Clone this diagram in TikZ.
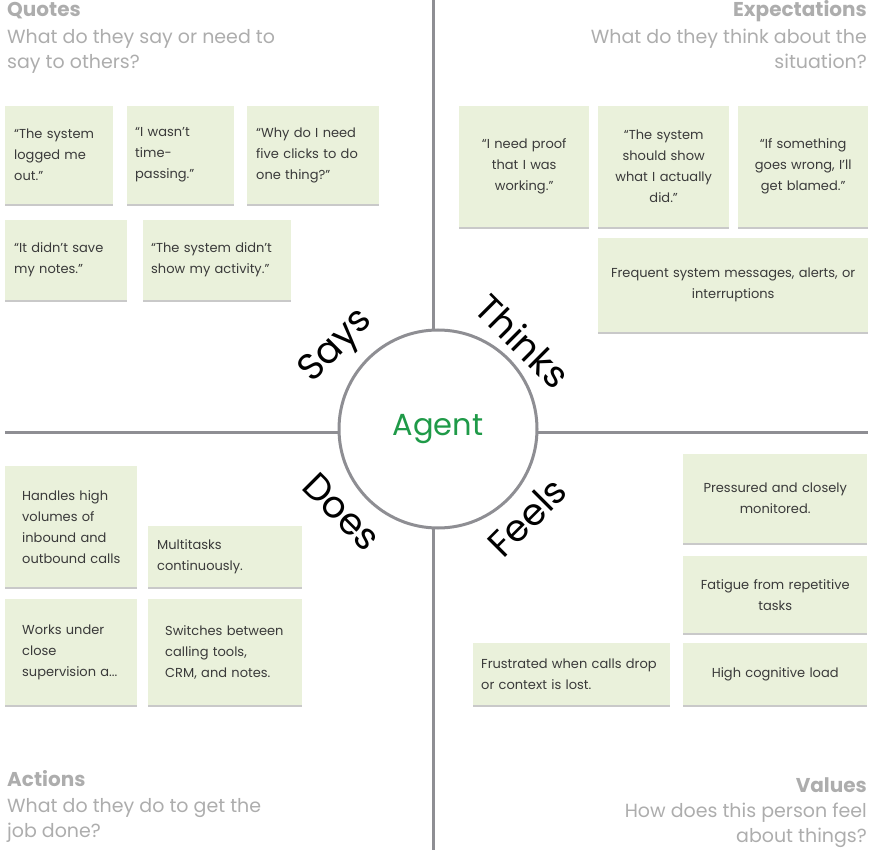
\documentclass[tikz,border=0pt]{standalone}
\usepackage{fontspec}
\setmainfont{Poppins}
\usetikzlibrary{shadows}
\definecolor{stickyfill}{HTML}{EAF1DB}
\definecolor{linegray}{HTML}{8E8E93}
\definecolor{headgray}{HTML}{ADADAD}
\definecolor{agentgreen}{HTML}{1F9A48}
\definecolor{stickytext}{HTML}{3A3A3A}
\tikzset{
  sticky/.style={fill=stickyfill, draw=none, anchor=north west, inner ysep=0pt,
    text=stickytext, font=\fontsize{13}{21}\selectfont,
    drop shadow={shadow xshift=0pt, shadow yshift=-1.5pt, fill=black!30, opacity=0.7}},
  stickyL/.style={sticky, align=left},
  stickyC/.style={sticky, align=center},
  head/.style={text=headgray, font=\fontsize{19}{25}\selectfont, inner sep=0pt},
  headbold/.style={text=headgray, font=\fontsize{20}{25}\selectfont\bfseries, inner sep=0pt},
  divider/.style={draw=linegray, line width=3pt},
  quad/.style={font=\fontsize{37}{37}\selectfont, text=black, inner sep=0pt},
}
\begin{document}
\begin{tikzpicture}[x=1pt, y=-1pt]
\useasboundingbox (0,0) rectangle (870,850);
% dividers
\coordinate (vtop) at (433.5,0);
\coordinate (vbot) at (433.5,850);
\coordinate (hl) at (5,432);
\coordinate (hr) at (868,432);
\node[circle, minimum size=198, inner sep=0pt] (agentc) at (438,429) {};
\draw[divider] (vtop) -- (agentc.north -| vtop);
\draw[divider] (agentc.south -| vbot) -- (vbot);
\draw[divider] (hl) -- (agentc.west |- hl);
\draw[divider] (agentc.east |- hr) -- (hr);
\node[circle, draw=linegray, line width=3pt, fill=white, minimum size=198, inner sep=0pt,
  text=agentgreen, font=\fontsize{30.5}{30}\selectfont] (agent) at (438,429) {Agent};

% quadrant labels
\node[quad, rotate=45] (says) at (337,347) {Says};
\node[quad, rotate=-45] (thinks) at (523,341) {Thinks};
\node[quad, rotate=-45] (does) at (342,512) {Does};
\node[quad, rotate=45] (feels) at (527,517) {Feels};

% headers
\node[headbold, anchor=west] (qh) at (7,11) {Quotes};
\node[head, anchor=north west, align=left] (qs) at (7,29) {What do they say or need to\\say to others?};
\node[headbold, anchor=east] (eh) at (867,11) {Expectations};
\node[head, anchor=north east, align=right] (es) at (867,29) {What do they think about the\\situation?};
\node[headbold, anchor=west] (ah) at (7,779) {Actions};
\node[head, anchor=north west, align=left] (as) at (7,798) {What do they do to get the\\job done?};
\node[headbold, anchor=east] (vh) at (867,785) {Values};
\node[head, anchor=north east, align=right] (vs) at (867,803) {How does this person feel\\about things?};

% Says stickies
\node[stickyL, inner xsep=9pt, text width=90pt, minimum height=98pt] (q1) at (5,106) {“The system\\logged me\\out.”};
\node[stickyL, inner xsep=8pt, text width=91pt, minimum height=98pt] (q2) at (127,106) {“I wasn’t\\time-\\passing.”};
\node[stickyL, inner xsep=9pt, text width=114pt, minimum height=98pt] (q3) at (247,106) {“Why do I need\\five clicks to do\\one thing?”};
\node[stickyL, inner xsep=9pt, text width=104pt, minimum height=80pt] (q4) at (5,220) {“It didn’t save\\my notes.”};
\node[stickyL, inner xsep=8pt, text width=132pt, minimum height=80pt] (q5) at (143,220) {“The system didn’t\\show my activity.”};

% Thinks stickies
\node[stickyC, inner xsep=5pt, text width=120pt, minimum height=121pt] (t1) at (459,106) {“I need proof\\that I was\\working.”};
\node[stickyC, inner xsep=5pt, text width=121pt, minimum height=121pt] (t2) at (598,106) {“The system\\should show\\what I actually\\did.”};
\node[stickyC, inner xsep=5pt, text width=120pt, minimum height=121pt] (t3) at (738,106) {“If something\\goes wrong, I’ll\\get blamed.”};
\node[stickyC, inner xsep=5pt, text width=260pt, minimum height=94pt] (t4) at (598,238) {Frequent system messages, alerts, or\\interruptions};

% Does stickies
\node[stickyL, inner xsep=12pt, text width=108pt, minimum height=121pt] (d1) at (5,466) {\hspace*{5pt}Handles high\\\hspace*{5pt}volumes of\\\hspace*{5pt}inbound and\\\hspace*{5pt}outbound calls};
\node[stickyL, inner xsep=9pt, text width=136pt, minimum height=61pt] (d2) at (148,526) {Multitasks\\continuously.};
\node[stickyL, inner xsep=17pt, text width=98pt, minimum height=106pt] (d3) at (5,599) {Works under\\close\\supervision a...};
\node[stickyL, inner xsep=17pt, text width=120pt, minimum height=106pt] (d4) at (148,599) {Switches between\\calling tools,\\CRM, and notes.};

% Feels stickies
\node[stickyC, inner xsep=5pt, text width=174pt, minimum height=89pt] (f1) at (683,454) {Pressured and closely\\monitored.};
\node[stickyC, inner xsep=5pt, text width=174pt, minimum height=77pt] (f2) at (683,556) {Fatigue from repetitive\\tasks};
\node[stickyL, inner xsep=8pt, text width=181pt, minimum height=62pt] (f3) at (473,643) {Frustrated when calls drop\\or context is lost.};
\node[stickyC, inner xsep=5pt, text width=174pt, minimum height=62pt] (f4) at (683,643) {High cognitive load};
\end{tikzpicture}
\end{document}
